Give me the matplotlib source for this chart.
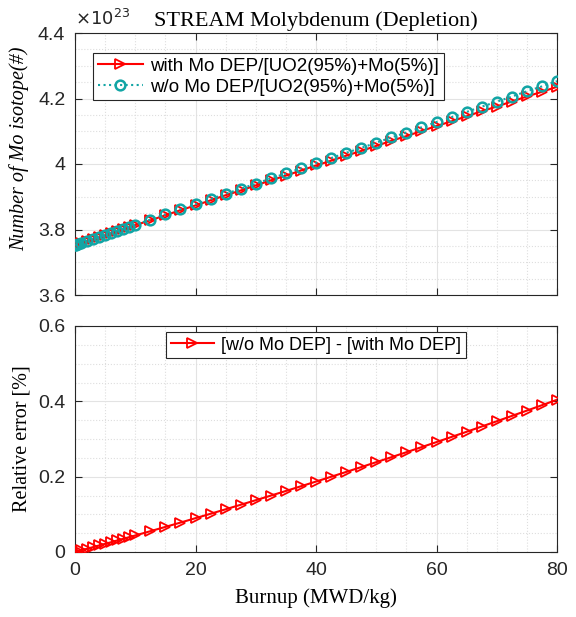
import numpy as np
import matplotlib

matplotlib.use("Agg")
import matplotlib.pyplot as plt
from matplotlib.ticker import MultipleLocator

# burnup steps (MWD/kg)
burnup = [0, 0.1, 0.5, 1, 2, 3, 4, 5, 6, 7, 8, 9, 10, 12.5, 15, 17.5, 20,
          22.5, 25, 27.5, 30, 32.5, 35, 37.5, 40, 42.5, 45, 47.5, 50, 52.5,
          55, 57.5, 60, 62.5, 65, 67.5, 70, 72.5, 75, 77.5, 80]

# number of Mo isotopes, in units of 1e23
n_with_dep = [3.7520, 3.7530, 3.7549, 3.7578, 3.7647, 3.7705, 3.7763, 3.7822,
              3.7890, 3.7948, 3.8007, 3.8065, 3.8133, 3.8279, 3.8434, 3.8590,
              3.8735, 3.8891, 3.9046, 3.9191, 3.9346, 3.9501, 3.9646, 3.9800,
              3.9955, 4.0100, 4.0254, 4.0399, 4.0553, 4.0707, 4.0852, 4.1006,
              4.1160, 4.1303, 4.1457, 4.1611, 4.1755, 4.1908, 4.2062, 4.2205,
              4.2358]
n_wo_dep = [3.752, 3.753, 3.755, 3.758, 3.765, 3.771, 3.777, 3.783, 3.790,
            3.796, 3.802, 3.808, 3.815, 3.830, 3.846, 3.862, 3.877, 3.893,
            3.909, 3.924, 3.940, 3.956, 3.971, 3.987, 4.003, 4.018, 4.034,
            4.049, 4.065, 4.081, 4.096, 4.112, 4.128, 4.143, 4.159, 4.175,
            4.190, 4.206, 4.222, 4.237, 4.253]

# relative error [%]
rel_err = [0, 0.0004, 0.002, 0.0043, 0.0086, 0.013, 0.0174, 0.0217, 0.026,
           0.0306, 0.035, 0.0395, 0.0439, 0.0552, 0.0666, 0.0781, 0.0898,
           0.1015, 0.1134, 0.1254, 0.1375, 0.1497, 0.1620, 0.1745, 0.1870,
           0.1997, 0.2125, 0.2254, 0.2385, 0.2516, 0.2649, 0.2783, 0.2918,
           0.3055, 0.3192, 0.3331, 0.3471, 0.3612, 0.3754, 0.3897, 0.4042]

label_with = "with Mo DEP/[UO2(95%)+Mo(5%)]"
label_wo = "w/o Mo DEP/[UO2(95%)+Mo(5%)]"
label_err = "[w/o Mo DEP] - [with Mo DEP]"

plt.rcParams["font.family"] = ["Liberation Sans", "DejaVu Sans"]
serif = "Liberation Serif"
teal = "#12a5a5"
dark = "#262626"


def style_axes(ax):
    ax.tick_params(which="both", direction="in", top=True, right=True,
                   labelsize=14, colors=dark, width=0.8, pad=7)
    ax.tick_params(which="minor", length=0)
    ax.tick_params(which="major", length=5)
    ax.xaxis.set_major_locator(MultipleLocator(20))
    ax.xaxis.set_minor_locator(MultipleLocator(5))
    ax.grid(which="major", color="#e3e3e3", linewidth=0.8)
    ax.grid(which="minor", color="#dedede", linestyle=":", linewidth=0.8)
    ax.set_axisbelow(True)
    for s in ax.spines.values():
        s.set_color(dark)
        s.set_linewidth(0.8)


fig = plt.figure(figsize=(5.76, 6.17), dpi=100)
# pixel box: x 75..557, top axes y 33..295, bottom axes y 326..552
ax1 = fig.add_axes([75 / 576, 1 - 295 / 617, 482 / 576, 262 / 617])
ax2 = fig.add_axes([75 / 576, 1 - 552 / 617, 482 / 576, 226 / 617])

ax1.plot(burnup, n_with_dep, "-", color="red", lw=1.5, marker=">",
         ms=6.5, mfc="none", mew=1.3, label=label_with, zorder=3)
ax1.plot(burnup, n_wo_dep, ":", color=teal, lw=1.5, marker="o",
         ms=7, mfc="none", mew=1.8, label=label_wo, zorder=4)
ax1.set_xlim(0, 80)
ax1.set_ylim(3.6, 4.4)
ax1.yaxis.set_minor_locator(MultipleLocator(0.05))
ax1.set_yticks([3.6, 3.8, 4.0, 4.2, 4.4])
ax1.set_yticklabels(["3.6", "3.8", "4", "4.2", "4.4"])
style_axes(ax1)
ax1.tick_params(labelbottom=False)
ax1.set_ylabel("Number of Mo isotope(#)", family=serif, style="italic",
               fontsize=14.5)
ax1.yaxis.set_label_coords(-0.095, 0.56)
ax1.set_title("STREAM Molybdenum (Depletion)", family=serif, fontsize=16,
              pad=5)
ax1.text(0.0, 1.015, r"$\times10^{23}$", transform=ax1.transAxes,
         fontsize=13, color=dark, ha="left", va="bottom",
         math_fontfamily="dejavusans")
leg1 = ax1.legend(loc="upper left", bbox_to_anchor=(0.037, 0.924),
                  fontsize=13.5, fancybox=False, edgecolor=dark,
                  framealpha=1, handlelength=2.4, handletextpad=0.4,
                  borderpad=0.25, labelspacing=0.2, borderaxespad=0)
leg1.get_frame().set_linewidth(0.8)

ax2.plot(burnup, rel_err, "-", color="red", lw=1.5, marker=">", ms=6.5,
         mfc="none", mew=1.3, label=label_err, zorder=3)
ax2.set_xlim(0, 80)
ax2.set_ylim(0, 0.6)
ax2.set_yticks([0, 0.2, 0.4, 0.6])
ax2.set_yticklabels(["0", "0.2", "0.4", "0.6"])
ax2.yaxis.set_minor_locator(MultipleLocator(0.05))
style_axes(ax2)
ax2.set_ylabel("Relative error [%]", family=serif, fontsize=14.5,
               labelpad=5)
ax2.set_xlabel("Burnup (MWD/kg)", family=serif, fontsize=15, labelpad=7)
leg2 = ax2.legend(loc="upper center", bbox_to_anchor=(0.5, 0.973),
                  fontsize=13, fancybox=False, edgecolor=dark,
                  framealpha=1, handlelength=2.4, handletextpad=0.4,
                  borderpad=0.25, borderaxespad=0)
leg2.get_frame().set_linewidth(0.8)

fig.savefig("out.png", dpi=100)
